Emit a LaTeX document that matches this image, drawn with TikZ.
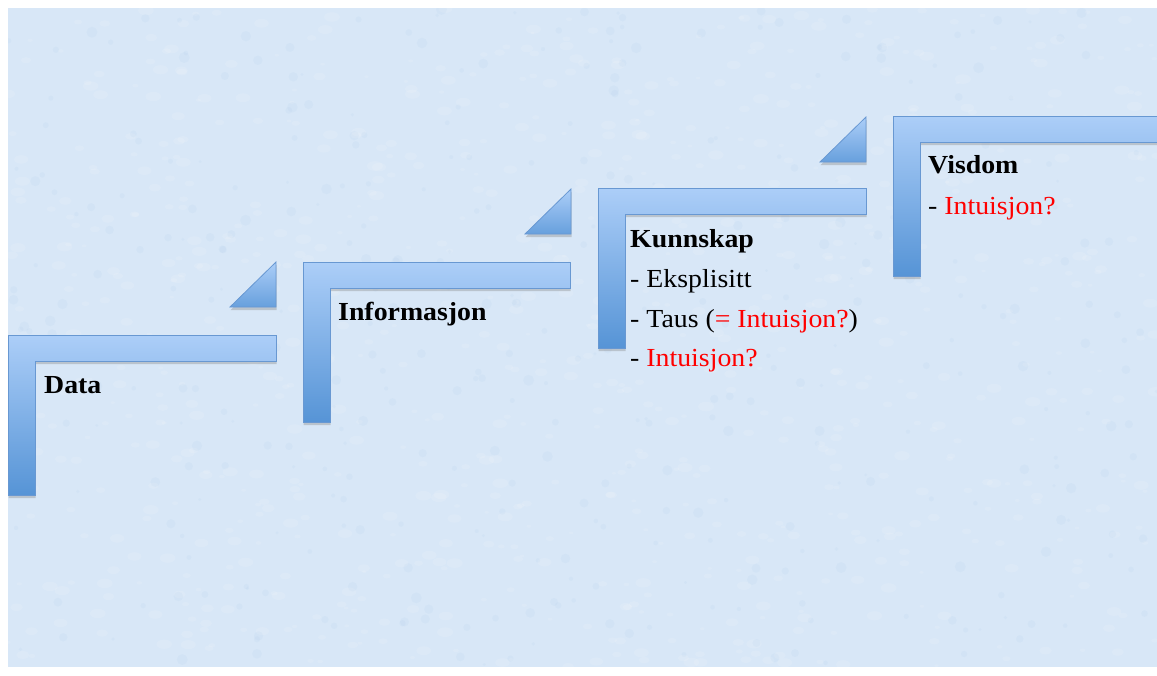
\documentclass[tikz,border=0pt]{standalone}
\usepackage{fontspec}
\setmainfont{Liberation Serif}[FakeStretch=1.07]
\usetikzlibrary{shadows}
\definecolor{bgblue}{RGB}{216,231,247}
\definecolor{frametop}{RGB}{172,206,248}
\definecolor{framebot}{RGB}{86,148,214}
\definecolor{frameline}{RGB}{104,152,210}
\definecolor{txtred}{RGB}{255,0,0}
\tikzset{
  frame/.style={draw=frameline, line width=0.8pt, top color=frametop, bottom color=framebot,
    drop shadow={opacity=0.35, shadow xshift=0.5pt, shadow yshift=-3pt}},
  tri/.style={draw=frameline, line width=0.8pt, top color=frametop, bottom color=framebot!80!frametop,
    drop shadow={opacity=0.35, shadow xshift=0.5pt, shadow yshift=-3pt}},
  lbl/.style={anchor=base west, inner sep=0pt, font=\fontsize{26}{40}\selectfont},
  head/.style={lbl, font=\fontsize{26}{40}\selectfont\bfseries}
}
\newcommand\halfframe[3]{% x, y, right end
  \path[frame] (#1,#2) -- (#3,#2) -- (#3,#2+26) -- (#1+27,#2+26) -- (#1+27,#2+160) -- (#1,#2+160) -- cycle;}
\newcommand\steptri[3]{% left x, top y, right x
  \path[tri] (#3,#2) -- (#3,#2+45) -- (#1,#2+45) -- cycle;}
\begin{document}
\begin{tikzpicture}[x=1pt,y=-1pt]
\useasboundingbox (0,0) rectangle (1157,675);
\fill[white] (0,0) rectangle (1157,675);
\fill[bgblue] (8,8) rectangle (1157,667);
\pgfmathsetseed{7}
\begin{scope}
\clip (8,8) rectangle (1157,667);
\foreach \i in {1,...,900}{
  \pgfmathsetmacro\xx{8+rnd*1149}
  \pgfmathsetmacro\yy{8+rnd*659}
  \pgfmathsetmacro\rr{2+rnd*6}
  \fill[white, opacity=0.12] (\xx,\yy) ellipse[x radius=\rr, y radius=0.6*\rr];
}
\foreach \i in {1,...,400}{
  \pgfmathsetmacro\xx{8+rnd*1149}
  \pgfmathsetmacro\yy{8+rnd*659}
  \pgfmathsetmacro\rr{1.5+rnd*4}
  \fill[framebot, opacity=0.04] (\xx,\yy) circle[radius=\rr];
}
\end{scope}
% frames
\halfframe{8}{335}{276}
\halfframe{303}{262}{570}
\halfframe{598}{188}{866}
\halfframe{893}{116}{1170}
% step triangles
\steptri{230}{262}{276}
\steptri{525}{189}{571}
\steptri{820}{117}{866}
% texts
\node[head] (data) at (44,393) {Data};
\node[head] (info) at (338,320) {Informasjon};
\node[head] (kunn) at (630,247) {Kunnskap};
\node[lbl] (eks) at (630,287) {- Eksplisitt};
\node[lbl] (taus) at (630,327) {- Taus (\textcolor{txtred}{= Intuisjon?})};
\node[lbl] (kint) at (630,366) {- \textcolor{txtred}{Intuisjon?}};
\node[head] (vis) at (928,173) {Visdom};
\node[lbl] (vint) at (928,214) {- \textcolor{txtred}{Intuisjon?}};
\end{tikzpicture}
\end{document}
